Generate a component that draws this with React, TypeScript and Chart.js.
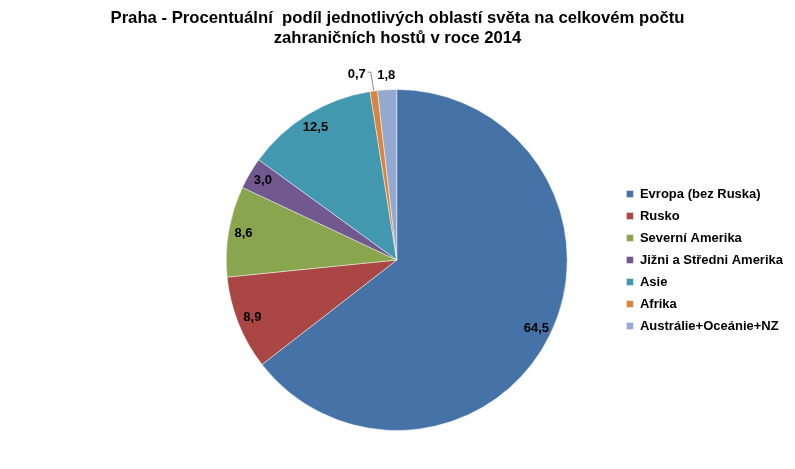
import React, { useEffect, useRef } from "react";
import { Chart, registerables } from "chart.js";

Chart.register(...registerables);

const TITLE_LINES = [
  "Praha - Procentuální  podíl jednotlivých oblastí světa na celkovém počtu",
  "zahraničních hostů v roce 2014",
];
const REGIONS = [
  "Evropa (bez Ruska)",
  "Rusko",
  "Severní Amerika",
  "Jižni a Středni Amerika",
  "Asie",
  "Afrika",
  "Austrálie+Oceánie+NZ",
];
const SHARES = [64.5, 8.9, 8.6, 3.0, 12.5, 0.7, 1.8];
const COLORS = ["#4572A7", "#AA4643", "#89A54E", "#71588F", "#4198AF", "#DB843D", "#93A9CF"];

const FONT = "'Liberation Sans', Arial, sans-serif";

const fmt = (v: number) => v.toFixed(1).replace(".", ",");

const titlePlugin = {
  id: "fullWidthTitle",
  afterDraw(chart: any) {
    const ctx = chart.ctx;
    ctx.save();
    ctx.font = `bold 16.7px ${FONT}`;
    ctx.fillStyle = "#000";
    ctx.textAlign = "center";
    ctx.textBaseline = "middle";
    TITLE_LINES.forEach((line, i) => {
      ctx.fillText(line, chart.width / 2, 18 + i * 20);
    });
    ctx.restore();
  },
};

const labelPlugin = {
  id: "sliceLabels",
  afterDatasetsDraw(chart: any) {
    const ctx = chart.ctx;
    const meta = chart.getDatasetMeta(0);
    const data = chart.data.datasets[0].data as number[];
    ctx.save();
    ctx.font = `bold 13px ${FONT}`;
    ctx.fillStyle = "#000";
    ctx.textBaseline = "middle";
    meta.data.forEach((arc: any, i: number) => {
      const { x, y, startAngle, endAngle, outerRadius } = arc.getProps(
        ["x", "y", "startAngle", "endAngle", "outerRadius"],
        true
      );
      const mid = (startAngle + endAngle) / 2;
      const v = data[i];
      const cos = Math.cos(mid);
      const sin = Math.sin(mid);
      if (v >= 2) {
        const r = outerRadius - 15;
        ctx.textAlign = "center";
        ctx.fillText(fmt(v), x + cos * r, y + sin * r);
      } else {
        const r = outerRadius + 15;
        const px = x + cos * r;
        const py = y + sin * r;
        if (v < 1) {
          ctx.textAlign = "right";
          ctx.fillText(fmt(v), px - 6, py - 2);
          ctx.strokeStyle = "#888";
          ctx.lineWidth = 1;
          ctx.beginPath();
          ctx.moveTo(px - 4, py - 4);
          ctx.lineTo(px - 1, py - 4);
          ctx.lineTo(x + cos * (outerRadius + 1), y + sin * (outerRadius + 1));
          ctx.stroke();
        } else {
          ctx.textAlign = "center";
          ctx.fillText(fmt(v), px, py + 1);
        }
      }
    });
    ctx.restore();
  },
};

export default function App() {
  const ref = useRef<HTMLCanvasElement | null>(null);
  useEffect(() => {
    if (!ref.current) return;
    const chart = new Chart(ref.current, {
      type: "pie",
      data: {
        labels: REGIONS,
        datasets: [
          {
            data: SHARES,
            backgroundColor: COLORS,
            borderColor: "rgba(255,255,255,0.45)",
            borderWidth: 1,
          },
        ],
      },
      options: {
        animation: false,
        responsive: true,
        maintainAspectRatio: false,
        layout: { padding: { top: 89, bottom: 38, left: 176, right: 2 } },
        plugins: {
          title: { display: false },
          legend: {
            position: "right",
            labels: {
              boxWidth: 7,
              boxHeight: 7,
              padding: 9,
              color: "#000",
              font: { family: FONT, size: 13, weight: "bold" },
            },
          },
          tooltip: { enabled: false },
        },
      },
      plugins: [labelPlugin, titlePlugin],
    });
    return () => chart.destroy();
  }, []);
  return (
    <div style={{ position: "fixed", left: 0, top: 0, width: 795, height: 469, background: "#fff" }}>
      <canvas ref={ref} />
    </div>
  );
}
